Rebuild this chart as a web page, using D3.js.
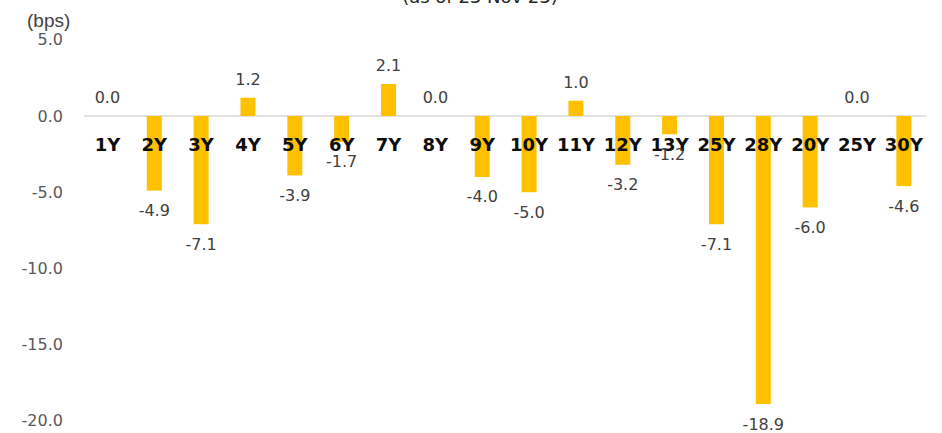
<!DOCTYPE html>
<html>
<head>
<meta charset="utf-8">
<script src="https://cdn.jsdelivr.net/npm/d3@7"></script>
<style>
  html, body { margin: 0; padding: 0; background: #fff; }
  svg { display: block; }
</style>
</head>
<body>
<div id="chart"></div>
<script>
// Change in yield by tenor, in basis points
const tenors = ["1Y","2Y","3Y","4Y","5Y","6Y","7Y","8Y","9Y","10Y","11Y","12Y","13Y","25Y","28Y","20Y","25Y","30Y"];
const changes = [0.0,-4.9,-7.1,1.2,-3.9,-1.7,2.1,0.0,-4.0,-5.0,1.0,-3.2,-1.2,-7.1,-18.9,-6.0,0.0,-4.6];
const yTicks = [5, 0, -5, -10, -15, -20];
const titleText = "(as of 23 Nov 23)";
const unitText = "(bps)";

const W = 942, H = 433;
const svg = d3.select("#chart").append("svg")
  .attr("width", W).attr("height", H);

// one-decimal format with a plain hyphen for negatives
const fmt = d3.formatLocale({ decimal: ".", thousands: ",", grouping: [3], currency: ["", ""], minus: "-" }).format(".1f");

const x = d3.scaleBand()
  .domain(d3.range(tenors.length))
  .range([84, 927.3])
  .paddingInner(0.68)
  .paddingOuter(0.34);

const y = d3.scaleLinear().domain([-20, 5]).range([420.8, 39.8]);

const numFont = "'DejaVu Sans', Verdana, sans-serif";

// title (sits mostly above the visible area)
svg.append("text")
  .attr("x", 480).attr("y", 3)
  .attr("text-anchor", "middle")
  .attr("font-family", "'DejaVu Sans', sans-serif")
  .attr("font-size", 18)
  .attr("fill", "#262626")
  .text(titleText);

// unit label
svg.append("text")
  .attr("x", 27).attr("y", 27)
  .attr("font-family", "'Liberation Sans Narrow', 'Liberation Sans', sans-serif")
  .attr("font-size", 19)
  .attr("fill", "#404040")
  .text(unitText);

// y axis labels
const yAxis = d3.axisLeft(y).tickValues(yTicks).tickFormat(fmt).tickSize(0).tickPadding(0);
const yg = svg.append("g").attr("transform", "translate(63,0)").call(yAxis);
yg.select(".domain").remove();
yg.selectAll("text")
  .attr("font-family", numFont)
  .attr("font-size", 16)
  .attr("fill", "#595959");

// zero line
svg.append("line")
  .attr("x1", 84).attr("x2", 926)
  .attr("y1", y(0)).attr("y2", y(0))
  .attr("stroke", "#d9d9d9").attr("stroke-width", 1.3);

// bars
svg.append("g").selectAll("rect")
  .data(changes)
  .join("rect")
  .attr("x", (d, i) => x(i))
  .attr("width", x.bandwidth())
  .attr("y", d => Math.min(y(d), y(0)))
  .attr("height", d => Math.abs(y(d) - y(0)))
  .attr("fill", "#FFC000");

// tenor labels, drawn over the bars
const xAxis = d3.axisBottom(x).tickFormat(i => tenors[i]).tickSize(0).tickPadding(0);
const xg = svg.append("g").attr("transform", `translate(0,${y(0)})`).call(xAxis);
xg.select(".domain").remove();
xg.selectAll("text")
  .attr("dy", null)
  .attr("y", 35)
  .attr("font-family", "'DejaVu Sans', Verdana, sans-serif")
  .attr("font-weight", "bold")
  .attr("font-size", 18)
  .attr("fill", "#0d0d0d");

// value labels
svg.append("g").selectAll("text")
  .data(changes)
  .join("text")
  .attr("x", (d, i) => x(i) + x.bandwidth() / 2)
  .attr("y", d => d >= 0 ? y(d) - 13 : y(d) + 25.5)
  .attr("text-anchor", "middle")
  .attr("font-family", numFont)
  .attr("font-size", 16)
  .attr("fill", "#404040")
  .text(d => fmt(d));
</script>
</body>
</html>
